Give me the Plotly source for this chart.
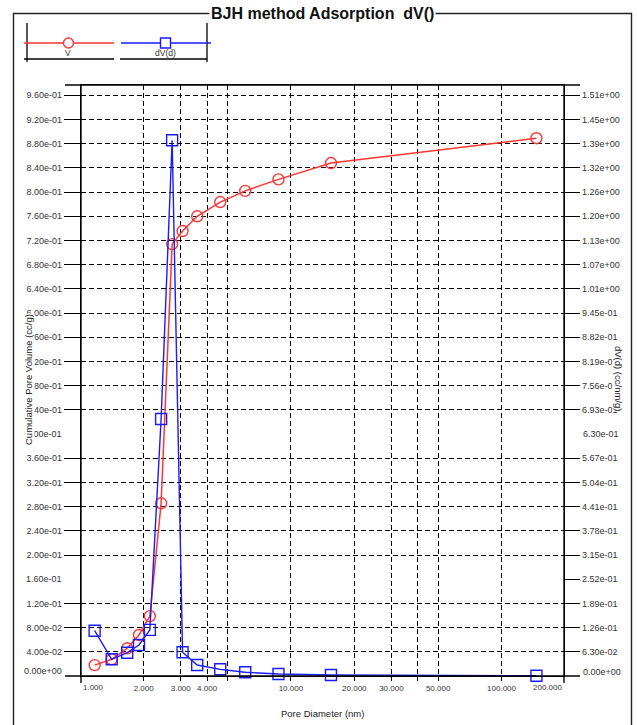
import math
import plotly.graph_objects as go

# ---------------- data ----------------
pore_diameter = [1.17, 1.41, 1.67, 1.90, 2.14, 2.42, 2.73, 3.06, 3.59, 4.62, 6.07, 8.73, 15.5, 146.5]
cum_pore_volume = [0.018, 0.0276, 0.0458, 0.0678, 0.099, 0.2855, 0.714, 0.7356, 0.760, 0.7835, 0.802, 0.821, 0.848, 0.889]
dv_d = [0.118, 0.0435, 0.0607, 0.0807, 0.120, 0.669, 1.395, 0.0617, 0.0286, 0.0174, 0.0096, 0.0052, 0.0026, 0.0005]

x_tick_vals = [2, 3, 4, 5, 10, 20, 30, 40, 50, 100]
x_tick_text = ["2.000", "3.000", "4.000", "", "10.000", "20.000", "30.000", "", "50.000", "100.000"]
x_end_text = ["1.000", "200.000"]
x_range = [1.008, 198]

left_tick_vals = [0.04, 0.08, 0.12, 0.20, 0.24, 0.28, 0.32, 0.36, 0.44, 0.48, 0.52, 0.56,
                  0.60, 0.64, 0.68, 0.72, 0.76, 0.80, 0.84, 0.88, 0.92, 0.96]
left_tick_text = ["4.00e-02", "8.00e-02", "1.20e-01", "2.00e-01", "2.40e-01", "2.80e-01", "3.20e-01",
                  "3.60e-01", "4.40e-01", "4.80e-01", "5.20e-01", "5.60e-01", "6.00e-01", "6.40e-01",
                  "6.80e-01", "7.20e-01", "7.60e-01", "8.00e-01", "8.40e-01", "8.80e-01", "9.20e-01", "9.60e-01"]
left_plain_vals = [0.0, 0.16, 0.40]
left_plain_text = ["0.00e+00", "1.60e-01", "4.00e-01"]
left_range = [0, 0.977]

right_tick_vals = [0.063, 0.126, 0.189, 0.252, 0.315, 0.378, 0.441, 0.504, 0.567, 0.693, 0.756, 0.819,
                   0.882, 0.945, 1.008, 1.071, 1.134, 1.197, 1.26, 1.323, 1.386, 1.449, 1.512]
right_tick_text = ["6.30e-02", "1.26e-01", "1.89e-01", "2.52e-01", "3.15e-01", "3.78e-01", "4.41e-01",
                   "5.04e-01", "5.67e-01", "6.93e-01", "7.56e-01", "8.19e-01", "8.82e-01", "9.45e-01",
                   "1.01e+00", "1.07e+00", "1.13e+00", "1.20e+00", "1.26e+00", "1.32e+00", "1.39e+00",
                   "1.45e+00", "1.51e+00"]
right_plain_vals = [0.0, 0.63]
right_plain_text = ["0.00e+00", "6.30e-01"]
right_range = [0, 0.977 * 1.575]

# ---------------- layout geometry ----------------
W, H = 637, 725
ML, MR, MT, MB = 81, 73, 85, 49
PW, PH = W - ML - MR, H - MT - MB


def px(x):
    return (x - ML) / PW


def py(y):
    return (H - MB - y) / PH


FONT = "Liberation Sans, Arial, sans-serif"
RED = "#ff3535"
BLUE = "#1a1aff"
LABEL = "#333333"

fig = go.Figure()
fig.add_trace(go.Scatter(
    x=pore_diameter, y=cum_pore_volume, name="V", mode="lines+markers",
    line=dict(color=RED, width=1.5),
    marker=dict(symbol="circle-open", size=11, color=RED, line=dict(width=1.4, color=RED)),
    cliponaxis=False, yaxis="y"))
fig.add_trace(go.Scatter(
    x=pore_diameter, y=dv_d, name="dV(d)", mode="lines+markers",
    line=dict(color=BLUE, width=1.4),
    marker=dict(symbol="square-open", size=11, color=BLUE, line=dict(width=1.4, color=BLUE)),
    cliponaxis=False, yaxis="y2"))

grid = dict(showgrid=True, gridcolor="black", gridwidth=1, griddash="5px,3px")

fig.update_layout(
    width=W, height=H, margin=dict(l=ML, r=MR, t=MT, b=MB, pad=0),
    paper_bgcolor="white", plot_bgcolor="white", showlegend=False,
    font=dict(family=FONT, color=LABEL),
    xaxis=dict(type="log", range=[math.log10(x_range[0]), math.log10(x_range[1])],
               tickmode="array", tickvals=x_tick_vals, ticktext=x_tick_text,
               ticks="outside", ticklen=4, tickcolor="black", tickwidth=1.2,
               tickfont=dict(size=8, color=LABEL),
               showline=True, linecolor="black", linewidth=1.4, mirror=True,
               zeroline=False, **grid),
    yaxis=dict(range=left_range, tickmode="array", tickvals=left_tick_vals, ticktext=left_tick_text,
               ticks="outside", ticklen=16, tickcolor="black", tickwidth=1.2,
               tickfont=dict(size=9, color=LABEL),
               showline=True, linecolor="black", linewidth=1.4, zeroline=False, **grid),
    yaxis2=dict(range=right_range, overlaying="y", side="right", anchor="x",
                tickmode="array", tickvals=right_tick_vals, ticktext=right_tick_text,
                ticks="outside", ticklen=15, tickcolor="black", tickwidth=1.2,
                tickfont=dict(size=9, color=LABEL),
                showline=True, linecolor="black", linewidth=1.4, zeroline=False, showgrid=False),
)

shapes = []
# outer frame
shapes.append(dict(type="rect", xref="paper", yref="paper", x0=px(13.5), x1=px(631.5),
                   y0=py(745), y1=py(13.5), line=dict(color="#222", width=1.4)))
# extended axis lines at the plot corners
for yy in (0, 1):
    shapes.append(dict(type="line", xref="paper", yref="paper", x0=px(65), x1=px(580), y0=yy, y1=yy,
                       line=dict(color="black", width=1.4)))
for xx in (0, 1):
    shapes.append(dict(type="line", xref="paper", yref="paper", x0=xx, x1=xx, y0=py(683), y1=1,
                       line=dict(color="black", width=1.4)))
# legend box
legend_lines = [
    (27, 23, 27, 62), (207, 23, 207, 62), (24, 59, 114, 59), (120, 59, 207, 59)]
for x0, y0, x1, y1 in legend_lines:
    shapes.append(dict(type="line", xref="paper", yref="paper", x0=px(x0), y0=py(y0), x1=px(x1), y1=py(y1),
                       line=dict(color="black", width=1.3)))
shapes.append(dict(type="line", xref="paper", yref="paper", x0=px(24), x1=px(114), y0=py(43), y1=py(43),
                   line=dict(color=RED, width=1.5)))
shapes.append(dict(type="circle", xref="paper", yref="paper", x0=px(63.5), x1=px(73.5), y0=py(48), y1=py(38),
                   line=dict(color=RED, width=1.4), fillcolor="white"))
shapes.append(dict(type="line", xref="paper", yref="paper", x0=px(121), x1=px(211), y0=py(43), y1=py(43),
                   line=dict(color=BLUE, width=1.5)))
shapes.append(dict(type="rect", xref="paper", yref="paper", x0=px(160.5), x1=px(170.5), y0=py(48), y1=py(38),
                   line=dict(color=BLUE, width=1.4), fillcolor="white"))

annotations = []
# title over the frame line
annotations.append(dict(text="<b>BJH method Adsorption \u00a0dV()</b>", xref="paper", yref="paper",
                        x=px(322.7), y=py(13.5), xanchor="center", yanchor="middle", showarrow=False,
                        font=dict(size=16, color="#111", family=FONT), bgcolor="white", borderpad=1))
# legend labels
annotations.append(dict(text="V", xref="paper", yref="paper", x=px(68), y=py(53), showarrow=False,
                        font=dict(size=8.5, color=LABEL), xanchor="center", yanchor="middle"))
annotations.append(dict(text="dV(d)", xref="paper", yref="paper", x=px(165), y=py(53), showarrow=False,
                        font=dict(size=8.5, color=LABEL), xanchor="center", yanchor="middle"))
# end labels of the x axis (at the range ends)
annotations.append(dict(text=x_end_text[0], xref="paper", yref="paper", x=0, y=0,
                        xanchor="left", yanchor="top", yshift=-5, showarrow=False,
                        font=dict(size=8, color=LABEL)))
annotations.append(dict(text=x_end_text[1], xref="paper", yref="paper", x=1, y=0,
                        xanchor="right", yanchor="top", yshift=-5, showarrow=False,
                        font=dict(size=8, color=LABEL)))
# left labels without tick/grid
for v, t in zip(left_plain_vals, left_plain_text):
    annotations.append(dict(text=t, xref="paper", yref="y", x=0, y=v, xanchor="right", yanchor="middle",
                            xshift=-17, yshift=5 if v == 0 else 0, showarrow=False,
                            font=dict(size=9, color=LABEL)))
for v, t in zip(right_plain_vals, right_plain_text):
    annotations.append(dict(text=t, xref="paper", yref="y2", x=1, y=v, xanchor="left", yanchor="middle",
                            xshift=17, yshift=4 if v == 0 else 0, showarrow=False,
                            font=dict(size=9, color=LABEL)))
# axis titles
annotations.append(dict(text="Pore Diameter (nm)", xref="paper", yref="paper", x=0.5, y=py(714),
                        xanchor="center", yanchor="middle", showarrow=False, font=dict(size=9.5, color="#222")))
annotations.append(dict(text="Cumulative Pore Volume (cc/g)", xref="paper", yref="paper", x=px(28), y=py(380),
                        xanchor="center", yanchor="middle", textangle=-90, showarrow=False,
                        bgcolor="white", borderpad=0, font=dict(size=9.5, color="#222")))
annotations.append(dict(text="dV(d) (cc/nm/g)", xref="paper", yref="paper", x=px(619), y=py(378),
                        xanchor="center", yanchor="middle", textangle=90, showarrow=False,
                        bgcolor="white", borderpad=0, font=dict(size=9.5, color="#222")))

fig.update_layout(shapes=shapes, annotations=annotations)
fig.write_html("out.html")
